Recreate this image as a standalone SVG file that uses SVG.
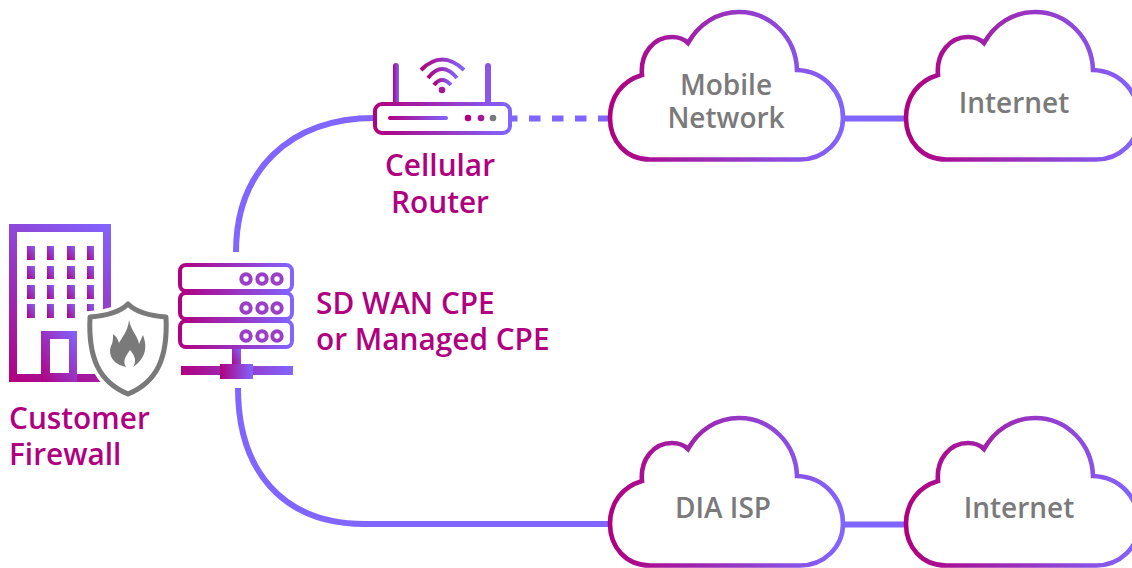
<svg xmlns="http://www.w3.org/2000/svg" xmlns:xlink="http://www.w3.org/1999/xlink" width="1132" height="568" viewBox="0 0 1132 568">
<style>
text{font-family:"Open Sans","Noto Sans","Liberation Sans",sans-serif;font-weight:600}
.lab{font-size:29.800px;fill:#b0007f}
.cl{font-size:28px;fill:#7a7a7a;text-anchor:middle}
.cloud{fill:#fff;stroke:url(#h);stroke-width:4.600}
.conn{fill:none;stroke:#8165ff;stroke-width:6}
.g{fill:url(#h)}
.d{fill:url(#d)}
.o{fill:#fff;stroke:url(#h);stroke-width:4}
.dot{fill:none;stroke:#9a40c8;stroke-width:4}
.w{fill:none;stroke:url(#h);stroke-width:4}
</style>
<defs>
<linearGradient id="h" x1="0" y1="0" x2="1" y2="0"><stop offset="0" stop-color="#b0007f"/><stop offset="1" stop-color="#8165ff"/></linearGradient>
<linearGradient id="d" x1="0" y1="1" x2="1" y2="0"><stop offset="0" stop-color="#b0007f"/><stop offset="1" stop-color="#8165ff"/></linearGradient>
<linearGradient id="b" gradientUnits="userSpaceOnUse" x1="9" y1="382" x2="111" y2="224"><stop offset="0" stop-color="#b0007f"/><stop offset="1" stop-color="#8165ff"/></linearGradient>
<path id="c" d="M650 159.500C626 159.500 610 141 610 118C610 97 622 81 642 75C640 53 654 37 672 37C678 37 684 39 688 43C699 24 717 12 739 12C771 12 796 38 797 70C824 71 843 92 843 118C843 141 824 159.500 800 159.500Z"/>
</defs>
<g id="connectors">
<path class="conn" d="M236 252C236 172 288 118 375 118"/>
<path class="conn" d="M238 388C238 470 282 524 365 524L611 524"/>
<path class="conn" d="M506 118.500H609" stroke-dasharray="11.500 11.500"/>
<path class="conn" d="M843 118.500H906"/>
<path class="conn" d="M843 524.500H906"/>
</g>
<g id="cloud-mobile"><use href="#c" class="cloud"/><text class="cl" x="726" y="94.500">Mobile</text><text class="cl" x="726" y="127.500">Network</text></g>
<g id="cloud-internet-top"><use href="#c" class="cloud" x="296"/><text class="cl" x="1014" y="112.500">Internet</text></g>
<g id="cloud-dia"><use href="#c" class="cloud" y="406"/><text class="cl" x="723" y="517.500">DIA ISP</text></g>
<g id="cloud-internet-bottom"><use href="#c" class="cloud" x="296" y="406"/><text class="cl" x="1019" y="517.500">Internet</text></g>
<g id="router">
<rect class="g" x="393" y="63" width="6" height="42" rx="3"/>
<rect x="485" y="63" width="6" height="42" rx="3" fill="#8a55e8"/>
<path class="w" d="M421 70Q442 49 464 70"/>
<path class="w" d="M428 78Q442 60 457 78"/>
<path class="w" d="M434 85Q442 75 451 85"/>
<circle cx="442" cy="90" r="3.300" fill="#a31a96"/>
<rect class="o" x="375" y="104" width="135" height="29" rx="7"/>
<rect class="g" x="388" y="116" width="60" height="4" rx="2"/>
<circle cx="468" cy="118" r="3.300" fill="#b0007f"/>
<circle cx="481" cy="118" r="3.300" fill="#a31a96"/>
<circle cx="493" cy="118" r="3.300" fill="#7a7a7a"/>
<text class="lab" x="440" y="175.500" text-anchor="middle">Cellular</text>
<text class="lab" x="440" y="212.500" text-anchor="middle">Router</text>
</g>
<g id="cpe">
<rect class="o" x="180" y="265" width="112" height="26" rx="6"/>
<rect class="o" x="180" y="293" width="112" height="26" rx="6"/>
<rect class="o" x="180" y="321" width="112" height="26" rx="6"/>
<circle class="dot" cx="246" cy="279" r="4.700"/><circle class="dot" cx="262" cy="279" r="4.700"/><circle class="dot" cx="277" cy="279" r="4.700"/>
<circle class="dot" cx="246" cy="308" r="4.700"/><circle class="dot" cx="262" cy="308" r="4.700"/><circle class="dot" cx="277" cy="308" r="4.700"/>
<circle class="dot" cx="246" cy="336" r="4.700"/><circle class="dot" cx="262" cy="336" r="4.700"/><circle class="dot" cx="277" cy="336" r="4.700"/>
<rect class="d" x="232" y="349" width="9" height="17"/>
<rect class="g" x="181" y="366" width="112" height="9"/>
<rect class="g" x="220" y="364" width="33" height="15"/>
<text class="lab" x="316" y="313.500">SD WAN CPE</text>
<text class="lab" x="316" y="349.500">or Managed CPE</text>
</g>
<g id="firewall">
<path fill="url(#b)" fill-rule="evenodd" d="M9 224H111V382H9ZM17 232V374H103V232Z"/>
<g class="d">
<rect x="27" y="246" width="8" height="14"/><rect x="47" y="246" width="7" height="14"/><rect x="67" y="246" width="8" height="14"/><rect x="87" y="246" width="7" height="14"/>
<rect x="27" y="266" width="8" height="13"/><rect x="47" y="266" width="7" height="13"/><rect x="67" y="266" width="8" height="13"/><rect x="87" y="266" width="7" height="13"/>
<rect x="27" y="285" width="8" height="14"/><rect x="47" y="285" width="7" height="14"/><rect x="67" y="285" width="8" height="14"/><rect x="87" y="285" width="7" height="14"/>
<rect x="27" y="304" width="8" height="14"/><rect x="47" y="304" width="7" height="14"/><rect x="67" y="304" width="8" height="14"/><rect x="87" y="304" width="7" height="14"/>
</g>
<path fill="url(#d)" fill-rule="evenodd" d="M41 331H77V382H41ZM50 339V373H69V339Z"/>
<path d="M128 304C120 312 104 316 90 317C88 358 99 382 128 394C157 382 168 358 166 317C152 316 136 312 128 304Z" fill="#fff" stroke="#fff" stroke-width="12"/>
<path d="M128 304C120 312 104 316 90 317C88 358 99 382 128 394C157 382 168 358 166 317C152 316 136 312 128 304Z" fill="#fff" stroke="#7a7a7a" stroke-width="5" stroke-linejoin="round"/>
<path fill="#7a7a7a" d="M129 320C131 331 138 336 139 344L143 335C147 345 147 358 133 367C137 361 135 356 130 350C126 356 122 361 126 367C112 364 108 354 111 346C113 342 113 339 113 334C117 337 118 340 119 343C122 337 128 331 129 320Z"/>
<text class="lab" x="9" y="428.500">Customer</text>
<text class="lab" x="9" y="464.500">Firewall</text>
</g>
</svg>
